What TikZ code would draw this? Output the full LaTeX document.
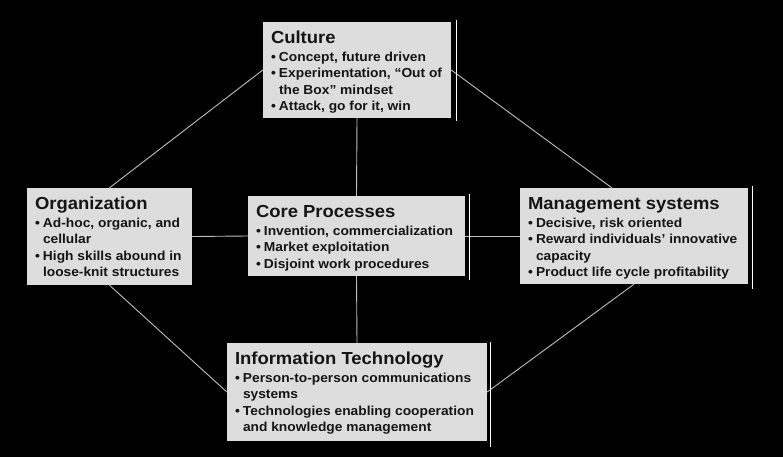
\documentclass[tikz,border=0pt]{standalone}
\usepackage{fontspec}
\newfontfamily\boxfont{Liberation Sans}[FakeStretch=1.06]
\usetikzlibrary{calc}
\definecolor{boxgray}{RGB}{221,221,221}
\definecolor{textdark}{RGB}{20,20,20}
\definecolor{linegray}{RGB}{190,190,190}
\newcommand\boxtext[3]{\parbox[c][#2][t]{#1}{\raggedright\vspace*{7.5pt}#3}}
\newcommand\ttl[1]{{\fontsize{17.4}{19}\selectfont\rule{0pt}{14pt}#1\par}\vspace*{1.7pt}}
\newcommand\itm[1]{{\fontsize{13}{16.3}\selectfont\hangindent=8pt\hangafter=1 \makebox[8pt][l]{•}#1\par}}
\tikzset{
  box/.style={fill=boxgray, text=textdark, inner xsep=8pt, inner ysep=0pt, font=\boxfont\bfseries},
  link/.style={draw=linegray, line width=0.9pt},
  sideline/.style={draw=white, line width=0.9pt}
}
\begin{document}
\begin{tikzpicture}[x=1pt,y=-1pt]
\fill[black] (0,0) rectangle (783,457);
\useasboundingbox (0,0) rectangle (783,457);
\node[box] (cul) at (357,70)
  {\boxtext{172pt}{96pt}{\ttl{Culture}\itm{Concept, future driven}\itm{Experimentation, “Out of\newline the Box” mindset}\itm{Attack, go for it, win}}};
\node[box] (org) at (109.5,236.5)
  {\boxtext{149pt}{97pt}{\ttl{Organization}\itm{Ad-hoc, organic, and\newline cellular}\itm{High skills abound in\newline loose-knit structures}}};
\node[box] (core) at (356.5,236)
  {\boxtext{201pt}{80pt}{\ttl{Core Processes}\itm{Invention, commercialization}\itm{Market exploitation}\itm{Disjoint work procedures}}};
\node[box] (mg) at (634,236)
  {\boxtext{212pt}{96pt}{\ttl{Management systems}\itm{Decisive, risk oriented}\itm{Reward individuals’ innovative\newline capacity}\itm{Product life cycle profitability}}};
\node[box] (it) at (357,392)
  {\boxtext{244pt}{98pt}{\ttl{Information Technology}\itm{Person-to-person communications\newline systems}\itm{Technologies enabling cooperation\newline and knowledge management}}};
\coordinate (mgtop) at (612,188);
\draw[link] (cul.west) -- (org.north);
\draw[link] (cul.east) -- (mgtop);
\draw[link] (cul.south) -- (core.north);
\draw[link] (org.east) -- (core.west);
\draw[link] (core.east) -- (mg.west);
\draw[link] (core.south) -- (it.north);
\draw[link] (org.south) -- (it.west);
\draw[link] (mg.south) -- (it.east);
\draw[sideline] ($(cul.north east)+(5,-2)$) -- ($(cul.south east)+(5,3)$);
\draw[sideline] ($(core.north east)+(4,-2)$) -- ($(core.south east)+(4,4)$);
\draw[sideline] ($(mg.north east)+(4,-2)$) -- ($(mg.south east)+(4,5)$);
\draw[sideline] ($(it.north east)+(3,-1)$) -- ($(it.south east)+(3,6)$);
\end{tikzpicture}
\end{document}
